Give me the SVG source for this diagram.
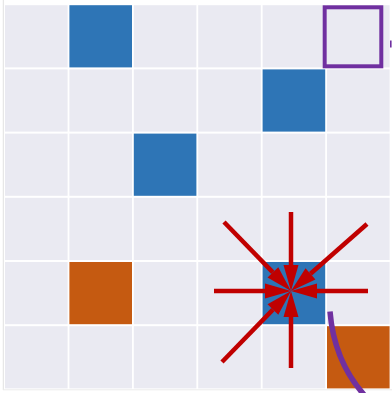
<svg xmlns="http://www.w3.org/2000/svg" width="392" height="393" viewBox="0 0 392 393">
<defs>
<style>
.c{fill:#eaeaf2}
.b{fill:#2e75b6}
.o{fill:#c55a11}
.a{stroke:#c00000;stroke-width:4.5;fill:none;marker-end:url(#ah)}
</style>
<marker id="ah" markerUnits="userSpaceOnUse" markerWidth="27" markerHeight="16" refX="0" refY="8" orient="auto" overflow="visible">
<path d="M0,0.5 L26,8 L0,15.5 z" fill="#c00000"/>
</marker>
</defs>
<rect width="392" height="393" fill="#ffffff"/>
<line x1="3.3" y1="0" x2="3.3" y2="390" stroke="#e2e2e2" stroke-width="1"/>
<line x1="3" y1="389.8" x2="392" y2="389.8" stroke="#ececec" stroke-width="1"/>
<g id="grid">
<rect class="c" x="5" y="5.2" width="62.6" height="62.2"/>
<rect class="c" x="133.8" y="5.2" width="62.6" height="62.2"/>
<rect class="c" x="198.2" y="5.2" width="62.6" height="62.2"/>
<rect class="c" x="262.6" y="5.2" width="62.6" height="62.2"/>
<rect class="c" x="327" y="5.2" width="62.6" height="62.2"/>
<rect class="c" x="5" y="69.4" width="62.6" height="62.2"/>
<rect class="c" x="69.4" y="69.4" width="62.6" height="62.2"/>
<rect class="c" x="133.8" y="69.4" width="62.6" height="62.2"/>
<rect class="c" x="198.2" y="69.4" width="62.6" height="62.2"/>
<rect class="c" x="327" y="69.4" width="62.6" height="62.2"/>
<rect class="c" x="5" y="133.6" width="62.6" height="62.2"/>
<rect class="c" x="69.4" y="133.6" width="62.6" height="62.2"/>
<rect class="c" x="198.2" y="133.6" width="62.6" height="62.2"/>
<rect class="c" x="262.6" y="133.6" width="62.6" height="62.2"/>
<rect class="c" x="327" y="133.6" width="62.6" height="62.2"/>
<rect class="c" x="5" y="197.8" width="62.6" height="62.2"/>
<rect class="c" x="69.4" y="197.8" width="62.6" height="62.2"/>
<rect class="c" x="133.8" y="197.8" width="62.6" height="62.2"/>
<rect class="c" x="198.2" y="197.8" width="62.6" height="62.2"/>
<rect class="c" x="262.6" y="197.8" width="62.6" height="62.2"/>
<rect class="c" x="327" y="197.8" width="62.6" height="62.2"/>
<rect class="c" x="5" y="262" width="62.6" height="62.2"/>
<rect class="c" x="133.8" y="262" width="62.6" height="62.2"/>
<rect class="c" x="198.2" y="262" width="62.6" height="62.2"/>
<rect class="c" x="327" y="262" width="62.6" height="62.2"/>
<rect class="c" x="5" y="326.2" width="62.6" height="62.2"/>
<rect class="c" x="69.4" y="326.2" width="62.6" height="62.2"/>
<rect class="c" x="133.8" y="326.2" width="62.6" height="62.2"/>
<rect class="c" x="198.2" y="326.2" width="62.6" height="62.2"/>
<rect class="c" x="262.6" y="326.2" width="62.6" height="62.2"/>
</g>
<g id="cell-b1"><rect class="b" x="69.4" y="5.2" width="62.6" height="62.2"/></g>
<g id="cell-b2"><rect class="b" x="262.6" y="69.4" width="62.6" height="62.2"/></g>
<g id="cell-b3"><rect class="b" x="133.8" y="133.6" width="62.6" height="62.2"/></g>
<g id="cell-b4"><rect class="b" x="262.6" y="262" width="62.6" height="62.2"/></g>
<g id="cell-o1"><rect class="o" x="69.4" y="262" width="62.6" height="62.2"/></g>
<g id="cell-o2"><rect class="o" x="327" y="326.2" width="62.6" height="62.2"/></g>
<g id="purple-box"><rect x="324.7" y="7.3" width="56.6" height="59" fill="none" stroke="#7030a0" stroke-width="4"/></g>
<g id="connectors">
<line class="a" x1="291" y1="212" x2="291" y2="265"/>
<line class="a" x1="291" y1="368" x2="291" y2="317"/>
<line class="a" x1="214" y1="291" x2="265" y2="291"/>
<line class="a" x1="368" y1="291" x2="317" y2="291"/>
<line class="a" x1="224" y1="222" x2="272.9" y2="272.4"/>
<line class="a" x1="367" y1="224" x2="310.5" y2="273.8"/>
<line class="a" x1="222" y1="362" x2="272.9" y2="309.6"/>
<path d="M330,311.5 Q334,362 366,397" fill="none" stroke="#7030a0" stroke-width="5.5"/>
<rect x="390" y="40.5" width="1.6" height="7" fill="#7030a0"/>
</g>
</svg>
